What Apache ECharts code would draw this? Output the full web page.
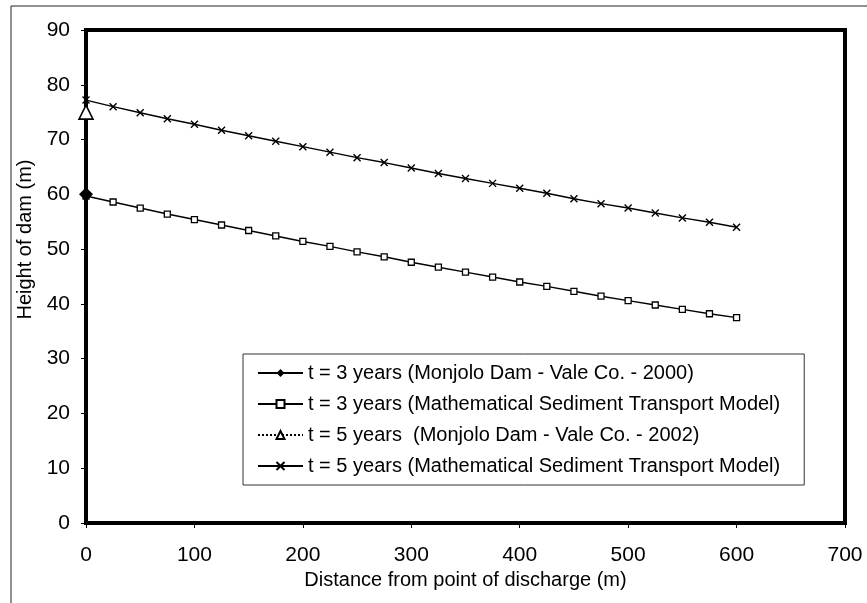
<!DOCTYPE html>
<html>
<head>
<meta charset="utf-8">
<style>
  html, body { margin: 0; padding: 0; background: #fff; }
  #chart { width: 867px; height: 603px; }
</style>
<script src="https://cdn.jsdelivr.net/npm/echarts@6/dist/echarts.min.js"></script>
</head>
<body>
<div id="chart"></div>
<script>
// distances (m) for the model curves
var distances = [0, 25, 50, 75, 100, 125, 150, 175, 200, 225, 250, 275, 300,
                 325, 350, 375, 400, 425, 450, 475, 500, 525, 550, 575, 600];
// t = 3 years model heights (m)
var model3 = [59.7, 58.6, 57.5, 56.4, 55.4, 54.4, 53.4, 52.4, 51.4, 50.5, 49.5, 48.6, 47.6,
              46.7, 45.8, 44.9, 44.0, 43.2, 42.3, 41.4, 40.6, 39.8, 39.0, 38.2, 37.5];
// t = 5 years model heights (m)
var model5 = [77.2, 76.0, 74.9, 73.8, 72.8, 71.7, 70.7, 69.7, 68.7, 67.7, 66.7, 65.8, 64.8,
              63.8, 62.9, 62.0, 61.1, 60.2, 59.2, 58.3, 57.5, 56.6, 55.7, 54.9, 54.0];
// measured at the dam
var obs3 = [[0, 60]];
var obs5 = [[0, 75]];

var names = [
  't = 3 years (Monjolo Dam - Vale Co. - 2000)',
  't = 3 years (Mathematical Sediment Transport Model)',
  't = 5 years  (Monjolo Dam - Vale Co. - 2002)',
  't = 5 years (Mathematical Sediment Transport Model)'
];

function pairs(xs, ys) {
  return xs.map(function (x, i) { return [x, ys[i]]; });
}

var font = "'Liberation Sans', Arial, sans-serif";
var myChart = echarts.init(document.getElementById('chart'));

var option = {
  animation: false,
  backgroundColor: '#fff',
  textStyle: { fontFamily: font, color: '#000' },
  graphic: [
    { type: 'line', shape: { x1: 11, y1: 6, x2: 867, y2: 6 }, style: { stroke: '#222', lineWidth: 1 } },
    { type: 'line', shape: { x1: 11, y1: 6, x2: 11, y2: 603 }, style: { stroke: '#222', lineWidth: 1 } }
  ],
  grid: {
    left: 86, right: 22, top: 30, bottom: 80,
    show: true, borderColor: '#000', borderWidth: 4
  },
  legend: {
    orient: 'vertical',
    left: 243, top: 354,
    padding: [9, 24, 9, 14],
    itemGap: 11,
    itemWidth: 45, itemHeight: 10,
    borderColor: '#333', borderWidth: 1,
    textStyle: { fontFamily: font, fontSize: 20, color: '#000' },
    data: names
  },
  xAxis: {
    type: 'value', min: 0, max: 700, interval: 100,
    name: 'Distance from point of discharge (m)',
    nameLocation: 'middle', nameGap: 47,
    nameTextStyle: { fontFamily: font, fontSize: 20, color: '#000' },
    axisLine: { lineStyle: { color: '#000', width: 4 } },
    axisTick: { show: true, length: 5, lineStyle: { color: '#000', width: 1 } },
    axisLabel: { fontFamily: font, fontSize: 21, color: '#000', margin: 22 },
    splitLine: { show: false }
  },
  yAxis: {
    type: 'value', min: 0, max: 90, interval: 10,
    name: 'Height of dam (m)',
    nameLocation: 'middle', nameGap: 46,
    nameTextStyle: { fontFamily: font, fontSize: 20, color: '#000', padding: [0, 0, 0, 74] },
    axisLine: { lineStyle: { color: '#000', width: 4 } },
    axisTick: { show: true, length: 5, lineStyle: { color: '#000', width: 1 } },
    axisLabel: { fontFamily: font, fontSize: 21, color: '#000', margin: 16 },
    splitLine: { show: false }
  },
  series: [
    {
      name: names[0], type: 'line', data: obs3,
      symbol: 'diamond', symbolSize: 14,
      itemStyle: { color: '#000' },
      lineStyle: { color: '#000', width: 1.4 },
      z: 5
    },
    {
      name: names[1], type: 'line', data: pairs(distances, model3),
      symbol: 'rect', symbolSize: 6,
      itemStyle: { color: '#fff', borderColor: '#000', borderWidth: 1.3 },
      lineStyle: { color: '#000', width: 1.4 }
    },
    {
      name: names[2], type: 'line', data: obs5,
      symbol: 'triangle', symbolSize: 14,
      itemStyle: { color: '#fff', borderColor: '#000', borderWidth: 1.6 },
      lineStyle: { color: '#000', width: 1.4, type: 'dotted' },
      z: 5
    },
    {
      name: names[3], type: 'line', data: pairs(distances, model5),
      symbol: 'path://M0,0L10,10M10,0L0,10', symbolSize: 7,
      itemStyle: { color: '#000', borderColor: '#000', borderWidth: 1.4 },
      lineStyle: { color: '#000', width: 1.4 }
    }
  ]
};

myChart.setOption(option);
</script>
</body>
</html>
